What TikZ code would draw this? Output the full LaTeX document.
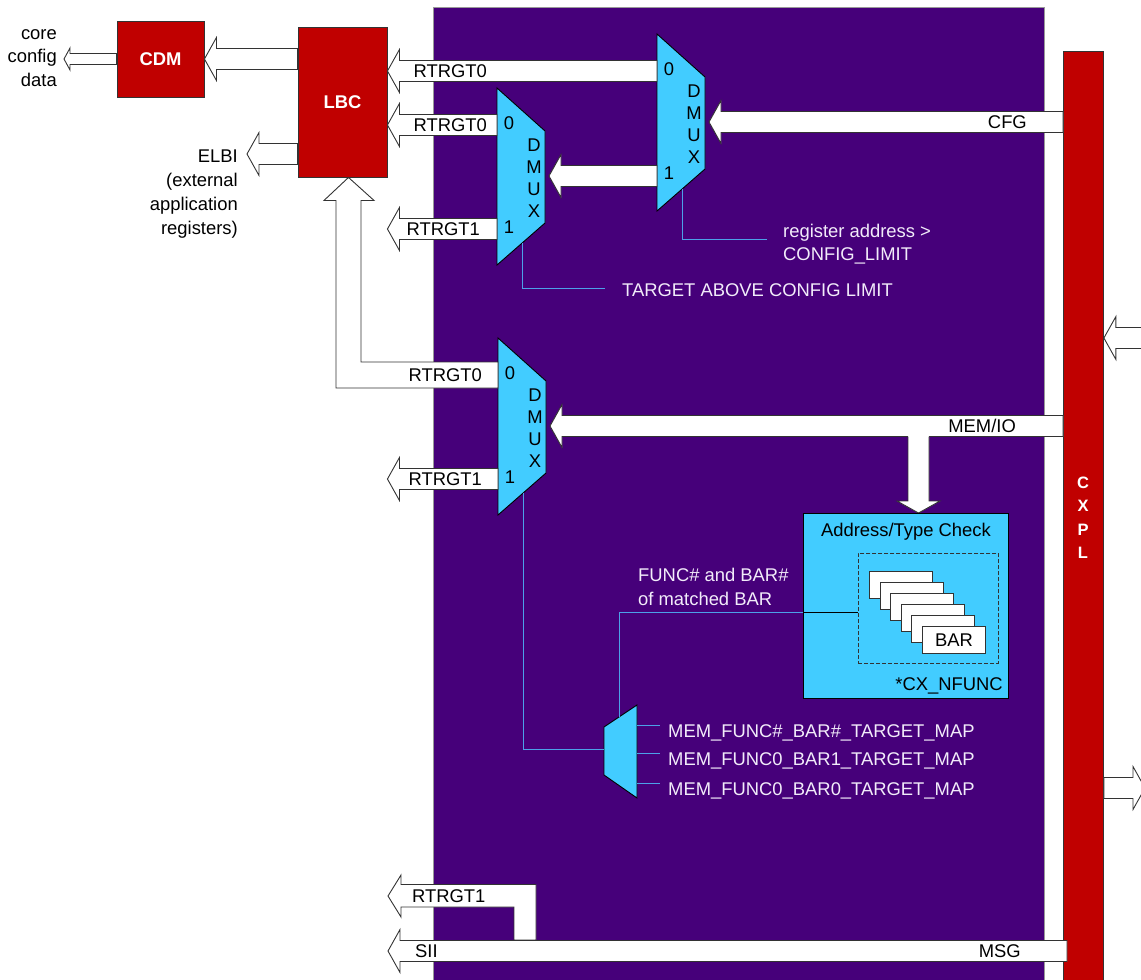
\documentclass[tikz,border=0pt]{standalone}
\usepackage{fontspec}
\setmainfont{Liberation Sans}
\usetikzlibrary{positioning,calc}

\definecolor{dmpurple}{RGB}{70,0,122}
\definecolor{dmred}{RGB}{192,0,0}
\definecolor{dmcyan}{RGB}{66,204,255}
\definecolor{selblue}{RGB}{77,160,232}
\definecolor{paletxt}{RGB}{242,236,250}

\tikzset{
  lbl/.style={font=\fontsize{18.4}{22}\selectfont, inner sep=0pt, text height=13.2pt, text depth=0pt},
  wlbl/.style={lbl, text=paletxt},
  redbox/.style={draw=black!80, fill=dmred, line width=0.9pt, text=white, inner sep=0pt,
    font=\bfseries\fontsize{18.4}{22}\selectfont, text height=13.2pt, text depth=0pt},
  muxshape/.style={draw=black, fill=dmcyan, line width=0.9pt},
  blockarrow/.style={draw=black!80, fill=white, line width=0.9pt},
  selline/.style={draw=selblue, line width=1pt},
  barbox/.style={draw=black!80, fill=white, line width=0.9pt, anchor=north west, minimum width=63pt, minimum height=27pt},
}

% hollow block arrow from #2 (tail) to #3 (tip), shaft/head half widths and head length in #1
\newcommand{\fatarrow}[3][10.5/21.5/12]{%
  \foreach \ahs/\ahh/\ahl in {#1}{%
    \filldraw[blockarrow] let \p1=(#2), \p2=(#3), \p3=($(#3)!\ahl pt!(#2)$) in
      (\x1,\y2+\ahs pt) -- (\x3,\y2+\ahs pt) -- (\x3,\y2+\ahh pt) -- (\p2)
      -- (\x3,\y2-\ahh pt) -- (\x3,\y2-\ahs pt) -- (\x1,\y2-\ahs pt) -- cycle;}}

\begin{document}
\begin{tikzpicture}[x=1pt,y=-1pt]
\useasboundingbox (0,0) rectangle (1141,980);
% core area
\filldraw[fill=dmpurple, draw=black!40, line width=0.8pt] (433,7) rectangle (1044,995);

% blocks
\node[redbox, minimum width=87pt, minimum height=76pt] (cdm) at (160.5,59) {CDM};
\node[redbox, minimum width=89pt, minimum height=150pt] (lbc) at (342.5,102) {LBC};
\node[redbox, anchor=north west, minimum width=40pt, minimum height=945pt] (cxpl) at (1063,51) {};
\foreach \l [count=\k from 0] in {C,X,P,L}
  \node[text=white, font=\bfseries\fontsize{16.5}{20}\selectfont, inner sep=0pt] at (1083,482.5+23.5*\k) {\l};

% free ends
\coordinate (cfgdata) at (64,59);
\coordinate (elbi) at (247,154);
\coordinate (cxin) at (1160,338);
\coordinate (cxout) at (1145,788);
\coordinate (msg) at (1067,951);
\coordinate (sii) at (388,951);
\coordinate (rt1b) at (388,896);
\coordinate (lbc-in) at ([xshift=6pt]lbc.south);
\coordinate (chk) at (918.5,513);
\coordinate (selA) at (767,239);
\coordinate (selB) at (605,288);

% demultiplexers
\foreach \m/\mx/\my in {muxA/657/34, muxB/497/88, muxC/498/338}{
  \filldraw[muxshape] (\mx,\my) -- ++(48,43) -- ++(0,92) -- (\mx,\my+177) -- cycle;
  \node[lbl] at (\mx+12,\my+35) {0};
  \node[lbl] at (\mx+12,\my+139) {1};
  \foreach \l [count=\k from 0] in {D,M,U,X}
    \node[lbl] at (\mx+37,\my+57+22*\k) {\l};
  \coordinate (\m-0) at (\mx,\my+37);
  \coordinate (\m-1) at (\mx,\my+141);
  \coordinate (\m-in) at (\mx+52,\my+88);
  \coordinate (\m-sel) at (\mx+25,\my+155);
}

% select lines
\draw[selline] (muxA-sel) |- (selA);
\draw[selline] (muxB-sel) |- (selB);

% data paths
\fatarrow{muxA-0}{lbc.east |- muxA-0}
\fatarrow{muxB-0}{lbc.east |- muxB-0}
\fatarrow{muxB-1}{lbc.east |- muxB-1}
\fatarrow{muxA-1}{muxB-in}
\fatarrow{cxpl.west |- muxA-in}{muxA-in}
\fatarrow{cxpl.west |- muxC-in}{muxC-in}
\fatarrow{muxC-1}{lbc.east |- muxC-1}
\fatarrow{lbc.west |- cdm.east}{cdm.east}
\fatarrow[5.5/11/6]{cdm.west}{cfgdata}
\fatarrow{lbc.west |- elbi}{elbi}
\fatarrow{cxin}{cxpl.east |- cxin}
\fatarrow{cxpl.east |- cxout}{cxout}

% RTRGT0 back up into the LBC
\filldraw[blockarrow] let \p1=(muxC-0), \p2=(lbc-in) in
  (\x1,\y1+13pt) -- (\x2+12.5pt,\y1+13pt) -- (\x2+12.5pt,\y2-23pt) -- (\x2+25.5pt,\y2-23pt)
  -- (\p2) -- (\x2-24.5pt,\y2-23pt) -- (\x2-12.5pt,\y2-23pt) -- (\x2-12.5pt,\y1-13pt)
  -- (\x1,\y1-13pt) -- cycle;

% MEM/IO branch to the check
\fill[white] let \p1=(chk), \p2=(muxC-in) in (\x1-10.5pt,\y2) rectangle (\x1+10.5pt,\y1+12pt);
\fill[white] let \p1=(chk) in (\x1-21.5pt,\y1+12pt) -- (\p1) -- (\x1+21.5pt,\y1+12pt) -- cycle;
\draw[blockarrow] let \p1=(chk), \p2=(muxC-in) in
  (\x1-10.5pt,\y2-10.5pt) -- (\x1-10.5pt,\y1+12pt) -- (\x1-21.5pt,\y1+12pt) -- (\p1)
  -- (\x1+21.5pt,\y1+12pt) -- (\x1+10.5pt,\y1+12pt) -- (\x1+10.5pt,\y2-10.5pt);

% messages
\filldraw[blockarrow] let \p1=(rt1b), \p2=(sii) in
  (\p1) -- (\x1+13pt,\y1+21pt) -- (\x1+13pt,\y1+11.5pt) -- (\x1+148pt,\y1+11.5pt)
  -- (\x1+148pt,\y2+11pt) -- (\x1+126pt,\y2+11pt) -- (\x1+126pt,\y1-11pt)
  -- (\x1+13pt,\y1-11pt) -- (\x1+13pt,\y1-21pt) -- cycle;
\fatarrow{msg}{sii}

% address/type check
\node[draw=black, fill=dmcyan, line width=0.9pt, anchor=north west, minimum width=205pt, minimum height=185pt] (atc) at (803,513) {};
\node[lbl, below=10.5pt of atc.north] {Address/Type Check};
\node[lbl, above left=8pt and 6pt of atc.south east] {*CX\_NFUNC};
\node[draw=black!80, dash pattern=on 4pt off 2pt, line width=0.8pt, anchor=north west, minimum width=140pt, minimum height=110pt] (bars) at (858,553) {};
\foreach \k in {0,...,5}
  \node[barbox] (bar\k) at (869+10.6*\k,571+11*\k) {};
\node[lbl] at (bar5.center) {BAR};
\coordinate (atc-out) at (803,612);
\draw[line width=0.9pt] (atc-out) -- (atc-out -| bars.west);

% BAR target map select
\filldraw[muxshape] (604,727) -- (637,705) -- (637,798) -- (604,775) -- cycle;
\coordinate (smux-sel) at (604,749);
\coordinate (smux-top) at (619,717);
\draw[selline] (muxC-sel) |- (smux-sel);
\draw[selline] (atc-out) -| (smux-top);
\foreach \yy/\txt in {725/MEM\_FUNC\#\_BAR\#\_TARGET\_MAP, 753/MEM\_FUNC0\_BAR1\_TARGET\_MAP, 783/MEM\_FUNC0\_BAR0\_TARGET\_MAP}{
  \draw[selline] (637,\yy) -- ++(23,0);
  \node[wlbl, anchor=west] at (668,\yy+6) {\txt};
}

% labels
\node[lbl, anchor=west, xshift=26pt] at (lbc.east |- muxA-0) {RTRGT0};
\node[lbl, anchor=west, xshift=26pt] at (lbc.east |- muxB-0) {RTRGT0};
\node[lbl, anchor=west, xshift=19pt] at (lbc.east |- muxB-1) {RTRGT1};
\node[lbl, anchor=west, xshift=21pt] at (lbc.east |- muxC-0) {RTRGT0};
\node[lbl, anchor=west, xshift=21pt] at (lbc.east |- muxC-1) {RTRGT1};
\node[lbl, anchor=east, xshift=-36pt] at (cxpl.west |- muxA-in) {CFG};
\node[lbl, anchor=east, xshift=-47pt] at (cxpl.west |- muxC-in) {MEM/IO};
\node[lbl, anchor=east, xshift=-46pt] at (msg) {MSG};
\node[lbl, anchor=west, xshift=27pt] at (sii) {SII};
\node[lbl, anchor=west, xshift=24pt] at (rt1b) {RTRGT1};
\foreach \t [count=\k from 0] in {core,config,data}
  \node[lbl, anchor=east] at (57,32.5+23.5*\k) {\t};
\foreach \t [count=\k from 0] in {ELBI,{(external},application,{registers)}}
  \node[lbl, anchor=east] at (238,155.5+24*\k) {\t};
\node[wlbl, anchor=west] at (783,230.5) {register address >};
\node[wlbl, anchor=west] at (783,253.5) {CONFIG\_LIMIT};
\node[wlbl, anchor=west] at (622,290) {TARGET ABOVE CONFIG LIMIT};
\node[wlbl, anchor=west] at (638,574.5) {FUNC\# and BAR\#};
\node[wlbl, anchor=west] at (638,598.5) {of matched BAR};
\end{tikzpicture}
\end{document}
